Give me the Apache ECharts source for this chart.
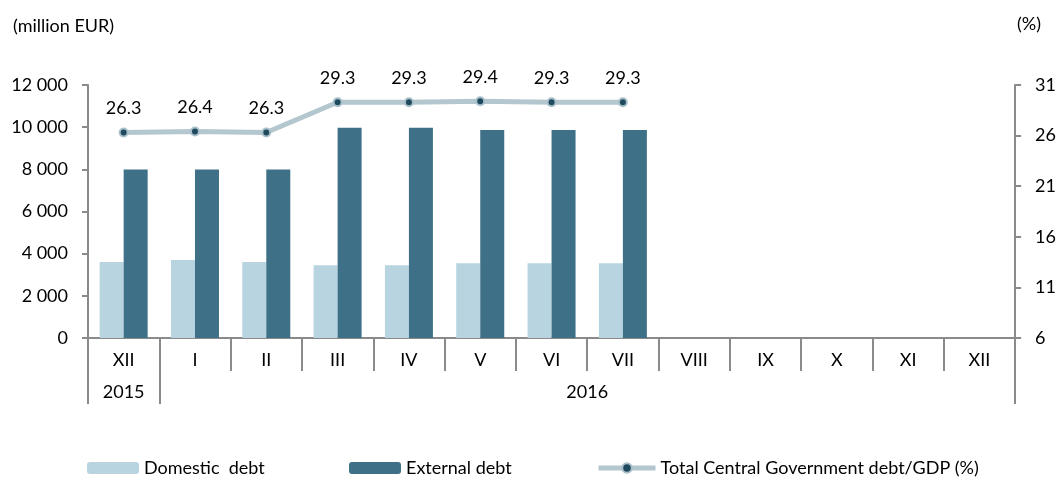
<!DOCTYPE html>
<html>
<head>
<meta charset="utf-8">
<script src="https://cdn.jsdelivr.net/npm/echarts@6/dist/echarts.min.js"></script>
<style>
  html, body { margin: 0; padding: 0; background: #fff; }
  #chart { width: 1059px; height: 480px; }
</style>
</head>
<body>
<div id="chart"></div>
<script>
// months on the axis (Dec 2015 .. Dec 2016)
const months = ['XII', 'I', 'II', 'III', 'IV', 'V', 'VI', 'VII', 'VIII', 'IX', 'X', 'XI', 'XII'];
// year row: label, start index, end index (in months)
const years = ['2015', '2016'];
const yearBounds = [0, 1, 13];

const domesticDebt = [3600, 3700, 3600, 3450, 3450, 3550, 3550, 3550];
const externalDebt = [7990, 7990, 7990, 9970, 9970, 9870, 9870, 9870];
const debtToGdp = [26.3, 26.4, 26.3, 29.3, 29.3, 29.4, 29.3, 29.3];

const font = 'Lato';
const axisGrey = '#8a8a8a';
const lightBlue = '#b7d4e0';
const darkBlue = '#3e7087';
const lineColor = '#b4c7cf';

// year label positions = middle of each span
const yearCenters = years.map((y, i) => (yearBounds[i] + yearBounds[i + 1]) / 2);

let mychart = echarts.init(document.getElementById('chart'));
mychart.setOption({
    animation: false,
    textStyle: { fontFamily: font, color: '#000' },
    title: [
        { text: '(million EUR)', left: 8, top: 12, textStyle: { fontFamily: font, fontSize: 18, fontWeight: 'normal', color: '#000' } },
        { text: '(%)', left: 1012, top: 10, textStyle: { fontFamily: font, fontSize: 18, fontWeight: 'normal', color: '#000' } }
    ],
    grid: { left: 88, right: 42, top: 85, bottom: 142 },
    legend: [
        { data: ['Domestic  debt'], left: 82, top: 454, itemWidth: 52, itemHeight: 12, itemGap: 0,
          textStyle: { fontFamily: font, fontSize: 18, color: '#000' } },
        { data: ['External debt'], left: 344, top: 454, itemWidth: 52, itemHeight: 12, itemGap: 0,
          textStyle: { fontFamily: font, fontSize: 18, color: '#000' } },
        { data: ['Total Central Government debt/GDP (%)'], left: 591, top: 454, itemWidth: 57, itemHeight: 12, itemGap: 0,
          lineStyle: { width: 5, color: lineColor },
          textStyle: { fontFamily: font, fontSize: 18, color: '#000' } }
    ],
    xAxis: [
        {
            type: 'category',
            data: months,
            axisLine: { lineStyle: { color: axisGrey, width: 2 } },
            axisTick: { show: true, alignWithLabel: false, interval: 0, length: 33, lineStyle: { color: axisGrey, width: 2 } },
            axisLabel: { interval: 0, margin: 13, fontSize: 18, color: '#000', fontFamily: font }
        },
        {
            type: 'value',
            position: 'bottom',
            offset: 33,
            min: yearBounds[0],
            max: yearBounds[yearBounds.length - 1],
            axisLine: { show: false },
            splitLine: { show: false },
            axisTick: { show: true, customValues: yearBounds, length: 33, lineStyle: { color: axisGrey, width: 2 } },
            axisLabel: {
                customValues: yearCenters,
                margin: 12, fontSize: 18, color: '#000', fontFamily: font,
                formatter: function (v) {
                    let i = yearCenters.indexOf(v);
                    return i >= 0 ? years[i] : '';
                }
            }
        }
    ],
    yAxis: [
        {
            type: 'value',
            min: 0, max: 12000, interval: 2000,
            axisLine: { show: true, lineStyle: { color: axisGrey, width: 2 } },
            axisTick: { show: true, length: 6, lineStyle: { color: axisGrey, width: 2 } },
            splitLine: { show: false },
            axisLabel: {
                margin: 20, fontSize: 18, color: '#000', fontFamily: font,
                formatter: v => String(v).replace(/\B(?=(\d{3})+(?!\d))/g, ' ')
            }
        },
        {
            type: 'value',
            position: 'right',
            min: 6, max: 31, interval: 5,
            axisLine: { show: true, lineStyle: { color: axisGrey, width: 2 } },
            axisTick: { show: true, length: 6, lineStyle: { color: axisGrey, width: 2 } },
            splitLine: { show: false },
            axisLabel: { margin: 20, fontSize: 18, color: '#000', fontFamily: font }
        }
    ],
    series: [
        {
            name: 'Domestic  debt',
            type: 'bar',
            data: domesticDebt,
            barWidth: 24,
            barGap: '0%',
            itemStyle: { color: lightBlue }
        },
        {
            name: 'External debt',
            type: 'bar',
            data: externalDebt,
            barWidth: 24,
            barGap: '0%',
            itemStyle: { color: darkBlue }
        },
        {
            name: 'Total Central Government debt/GDP (%)',
            type: 'line',
            yAxisIndex: 1,
            data: debtToGdp,
            symbol: 'circle',
            symbolSize: 8,
            lineStyle: { color: lineColor, width: 5 },
            itemStyle: { color: '#1f4a5e', borderColor: '#a9c0ca', borderWidth: 2 },
            label: {
                show: true, position: 'top', distance: 10,
                fontSize: 18, color: '#000', fontFamily: font,
                formatter: p => p.value.toFixed(1)
            },
            z: 5
        }
    ]
});
</script>
</body>
</html>
